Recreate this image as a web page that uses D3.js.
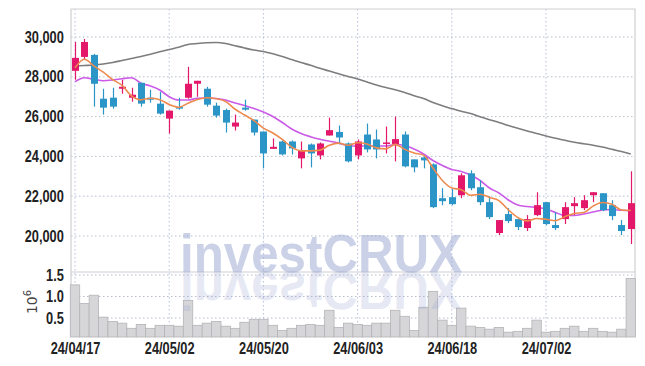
<!DOCTYPE html>
<html>
<head>
<meta charset="utf-8">
<script src="https://cdn.jsdelivr.net/npm/d3@7"></script>
<style>
  body { margin: 0; background: #fff; }
  svg { display: block; }
  .tick text { font-family: "Liberation Sans Narrow", "Liberation Sans", Arial, sans-serif; font-weight: bold; font-size: 16px; fill: #222; }
</style>
</head>
<body>
<svg id="chart" width="645" height="366"></svg>
<script>
//trading days shown (yy/mm/dd)
const dates = ["24/04/17","24/04/18","24/04/19","24/04/22","24/04/23","24/04/24","24/04/25","24/04/26","24/04/29","24/04/30",
  "24/05/02","24/05/03","24/05/07","24/05/08","24/05/09","24/05/10","24/05/13","24/05/14","24/05/16","24/05/17",
  "24/05/20","24/05/21","24/05/22","24/05/23","24/05/24","24/05/27","24/05/28","24/05/29","24/05/30","24/05/31",
  "24/06/03","24/06/04","24/06/05","24/06/07","24/06/10","24/06/11","24/06/12","24/06/13","24/06/14","24/06/17",
  "24/06/18","24/06/19","24/06/20","24/06/21","24/06/24","24/06/25","24/06/26","24/06/27","24/06/28","24/07/01",
  "24/07/02","24/07/03","24/07/04","24/07/05","24/07/08","24/07/09","24/07/10","24/07/11","24/07/12","24/07/15"];

const opens = [28300,29000,29100,26900,26950,27400,26950,27700,26950,26650,
  25900,26480,26950,27650,27400,26550,26330,25500,26450,25850,
  25250,24380,24750,24750,23900,24600,24050,25050,25230,24650,
  24050,25100,24850,24650,24620,25100,23850,23950,23600,21900,
  21950,22050,23150,22450,21700,20150,21100,20850,20400,21050,
  21700,20550,20850,21500,21400,22050,22150,21550,20550,20350];
const highs = [29750,29900,29150,27400,27450,27850,27450,27700,27350,27250,
  26300,26950,28500,27800,27500,26700,26400,26100,26850,25850,
  25250,24900,24800,24800,24750,24650,24700,25950,25550,24700,
  24850,25650,25350,25500,26000,25250,23850,24000,23650,22400,
  22350,23150,23300,22800,22000,20800,21400,20850,21050,22200,
  21700,21200,21700,21950,22050,22200,22150,21800,20800,23250];
const lows = [27850,28850,26500,26100,26400,27150,26750,26500,26700,26100,
  25150,26350,26900,27000,26500,25950,25200,25300,26300,25050,
  23400,24380,24050,24100,23400,23450,23850,25050,24600,23700,
  23850,24200,23900,24150,23750,23450,23200,23400,21400,21550,
  21550,21900,22300,21550,20850,20050,20650,20300,20250,21000,
  20550,20300,20600,21050,21300,21700,21250,20800,20050,19600];
const closes = [28950,29750,27650,26450,26500,27500,27100,26650,26850,26150,
  26300,26400,27650,27800,26600,26050,25700,25700,26350,25200,
  24150,24480,24100,24400,24270,24150,24650,25320,24950,23750,
  24750,24350,24350,24700,24870,23500,23450,23800,21450,21750,
  21600,23050,22400,21700,20950,20800,20750,20450,20850,21550,
  20600,20400,21450,21650,21800,22200,21300,21000,20250,21650];

//volume in millions of shares
const volumes = [1.27,0.84,1.03,0.52,0.42,0.38,0.26,0.35,0.26,0.33,
  0.33,0.31,0.91,0.33,0.38,0.42,0.31,0.26,0.40,0.47,
  0.47,0.33,0.21,0.26,0.33,0.35,0.33,0.68,0.28,0.38,
  0.35,0.33,0.38,0.38,0.68,0.54,0.21,0.75,1.12,0.45,
  0.33,0.73,0.31,0.28,0.24,0.28,0.17,0.19,0.26,0.45,
  0.17,0.19,0.26,0.31,0.19,0.26,0.19,0.17,0.24,1.42];

//moving averages
const ma_short = [28450,28880,28550,28230,27860,27570,27040,26840,26920,26850,
  26610,26470,26670,26860,26950,26900,26760,26370,26080,25800,
  25420,25176,24856,24466,24280,24280,24314,24558,24668,24564,
  24684,24624,24430,24380,24604,24354,24174,24064,23414,22790,
  22410,22330,22050,22100,21940,21780,21320,20930,20760,20880,
  20840,20770,20970,21130,21180,21500,21680,21590,21310,21280];
const ma_mid = [27754,27955,27874,27804,27839,27905,27955,27673,27538,27337,
  27000,26834,26834,26920,26935,26910,26834,26683,26558,26407,
  26231,26005,25704,25377,25151,24990,24860,24764,24674,24538,
  24523,24523,24523,24523,24598,24548,24372,24121,23794,23543,
  23342,23241,23066,22789,22412,22161,21809,21558,21482,21432,
  21357,21181,21030,21030,21105,21206,21306,21332,21292,21272];
const ma_long = [28543,28568,28593,28643,28719,28819,28920,29020,29136,29256,
  29372,29482,29623,29673,29709,29724,29673,29558,29447,29347,
  29271,29156,29020,28869,28719,28578,28427,28292,28151,28015,
  27890,27739,27588,27462,27352,27211,27045,26910,26709,26543,
  26402,26266,26156,25995,25844,25704,25553,25412,25277,25151,
  25025,24910,24809,24709,24634,24563,24472,24357,24246,24121];

const price_ticks = [20000,22000,24000,26000,28000,30000];
const volume_ticks = [0.5,1.0,1.5];
const date_ticks = ["24/04/17","24/05/02","24/05/20","24/06/03","24/06/18","24/07/02"];

const up_color = "#e3186a";
const down_color = "#2b95c8";

const plot_left = 71, plot_right = 635, plot_top = 9, plot_split = 272, plot_bottom = 337;

const svg = d3.select("#chart");

const x = d3.scalePoint().domain(dates).range([75, 630.8]);
const step = x.step();
const y = d3.scaleLinear().domain([20000, 30000]).range([236, 37]);
const yv = d3.scaleLinear().domain([0, 1.5]).range([339.5, 275]);

//grid lines
const grid = svg.append("g");
grid.selectAll(".hg").data(price_ticks).join("line")
  .attr("x1", plot_left).attr("x2", plot_right)
  .attr("y1", d => y(d)).attr("y2", d => y(d))
  .attr("stroke", "#b9bccb").attr("stroke-dasharray", "1.5,2.5");
grid.selectAll(".vg").data(volume_ticks).join("line")
  .attr("x1", plot_left).attr("x2", plot_right)
  .attr("y1", d => yv(d)).attr("y2", d => yv(d))
  .attr("stroke", "#b9bccb").attr("stroke-dasharray", "1.5,2.5");
grid.selectAll(".xg").data(date_ticks).join("line")
  .attr("x1", d => x(d)).attr("x2", d => x(d))
  .attr("y1", plot_top).attr("y2", plot_bottom)
  .attr("stroke", "#b6bedd").attr("stroke-dasharray", "1.5,2.5");

//frame
svg.append("path")
  .attr("d", `M${plot_left} ${plot_bottom}V${plot_top}H${plot_right}V${plot_bottom}M${plot_left} ${plot_split}H${plot_right}`)
  .attr("fill", "none").attr("stroke", "#cfcfd4").attr("stroke-width", 1.2);

//volume bars
svg.append("g").selectAll("rect").data(volumes).join("rect")
  .attr("x", (d, i) => x(dates[i]) - step/2)
  .attr("width", step)
  .attr("y", d => yv(d))
  .attr("height", d => plot_bottom - yv(d))
  .attr("fill", "#d6d6d8").attr("stroke", "#b4b4b8").attr("stroke-width", 0.8);

//watermark and its reflection
const mark = svg.append("g").attr("font-family", "Liberation Sans, Arial, sans-serif").attr("font-weight", "bold").attr("font-size", 54).attr("fill", "#98a6d2");
mark.append("text").attr("x", 180).attr("y", plot_split).attr("textLength", 282).attr("lengthAdjust", "spacingAndGlyphs")
  .attr("opacity", 0.5).text("investCRUX");
mark.append("text").attr("x", 180).attr("y", plot_split).attr("textLength", 282).attr("lengthAdjust", "spacingAndGlyphs")
  .attr("transform", `translate(0,${2*plot_split}) scale(1,-1)`)
  .attr("opacity", 0.24).text("investCRUX");

//moving average lines
function draw_line(values, color, width) {
  const line = d3.line().x((d, i) => x(dates[i])).y(d => y(d)).curve(d3.curveMonotoneX);
  svg.append("path").attr("d", line(values))
    .attr("fill", "none").attr("stroke", color).attr("stroke-width", width);
}
draw_line(ma_long, "#7d7d80", 1.6);
draw_line(ma_mid, "#cc5ae8", 1.6);

//candles
const candles = svg.append("g");
dates.forEach((d, i) => {
  const color = closes[i] >= opens[i] ? up_color : down_color;
  const cx = Math.round(x(d)) + 0.5;
  candles.append("line")
    .attr("x1", cx).attr("x2", cx)
    .attr("y1", y(highs[i])).attr("y2", y(lows[i]))
    .attr("stroke", color).attr("stroke-width", 1.2);
  const y0 = y(Math.max(opens[i], closes[i]));
  const y1 = y(Math.min(opens[i], closes[i]));
  candles.append("rect")
    .attr("x", cx - 3.5).attr("width", 7)
    .attr("y", y0).attr("height", Math.max(y1 - y0, 1.5))
    .attr("fill", color);
});

draw_line(ma_short, "#ee8a4e", 1.6);

//axes
const price_axis = svg.append("g").attr("transform", `translate(${plot_left},0)`)
  .call(d3.axisLeft(y).tickValues(price_ticks).tickFormat(d3.format(",")).tickSize(0).tickPadding(9));
const volume_axis = svg.append("g").attr("transform", `translate(${plot_left},0)`)
  .call(d3.axisLeft(yv).tickValues(volume_ticks).tickFormat(d3.format(".1f")).tickSize(0).tickPadding(9));
const date_axis = svg.append("g").attr("transform", `translate(0,${plot_bottom})`)
  .call(d3.axisBottom(x).tickValues(date_ticks).tickSize(0).tickPadding(6));
[price_axis, volume_axis, date_axis].forEach(a => a.select(".domain").remove());

//squeeze the labels to the narrow look of the original
svg.selectAll(".tick text").attr("transform", "scale(0.8,1)");

//volume unit label
const unit = svg.append("text")
  .attr("transform", "translate(37,302) rotate(-90)")
  .attr("text-anchor", "middle")
  .attr("font-family", "DejaVu Sans, sans-serif").attr("font-size", 14).attr("fill", "#444");
unit.append("tspan").text("10");
unit.append("tspan").attr("dy", -6).attr("font-size", 10).text("6");
</script>
</body>
</html>
